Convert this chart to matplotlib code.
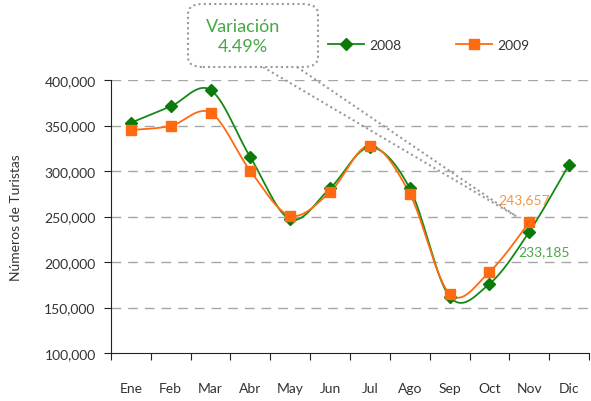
import numpy as np
import matplotlib
matplotlib.use("Agg")
import matplotlib.pyplot as plt
from matplotlib.patches import FancyBboxPatch
from matplotlib.lines import Line2D
from matplotlib.ticker import FuncFormatter, FixedLocator

plt.rcParams['font.family'] = ['Lato', 'DejaVu Sans']

months = ["Ene", "Feb", "Mar", "Abr", "May", "Jun", "Jul", "Ago", "Sep", "Oct", "Nov", "Dic"]
v2008 = [353000, 371000, 389000, 315000, 247000, 281000, 326000, 281000, 162000, 176000, 233185, 307000]
v2009 = [345000, 349500, 364000, 300000, 251000, 277000, 328000, 275000, 165000, 189000, 243657]
label_2008 = "233,185"
label_2009 = "243,657"
callout_text = "Variación\n4.49%"

W, H = 591, 402
fig = plt.figure(figsize=(W / 100, H / 100), dpi=100)
ax = fig.add_axes([111 / W, 1 - 354 / H, 478 / W, 273 / H])

ax.set_xlim(-0.5, 11.5)
ax.set_ylim(100000, 400000)

sx = 478 / 12.0
sy = 273 / 300000.0


def smooth(xs, ys, n=30):
    px = np.asarray(xs, float) * sx
    py = np.asarray(ys, float) * sy
    P = np.column_stack([px, py])
    out = []
    m = len(P)
    for i in range(m - 1):
        p0 = P[i - 1] if i > 0 else P[i]
        p1 = P[i]
        p2 = P[i + 1]
        p3 = P[i + 2] if i + 2 < m else P[i + 1]
        c1 = p1 + (p2 - p0) / 6.0
        c2 = p2 - (p3 - p1) / 6.0
        t = np.linspace(0, 1, n)[:, None]
        seg = ((1 - t) ** 3) * p1 + 3 * ((1 - t) ** 2) * t * c1 + 3 * (1 - t) * t ** 2 * c2 + t ** 3 * p2
        out.append(seg if i == 0 else seg[1:])
    S = np.vstack(out)
    return S[:, 0] / sx, S[:, 1] / sy


green = "#138a13"
orange = "#ff6a10"

x08 = np.arange(len(v2008))
x09 = np.arange(len(v2009))

gx, gy = smooth(x08, v2008)
ox, oy = smooth(x09, v2009)

ax.plot(gx, gy, color=green, lw=1.3, zorder=3, solid_capstyle='round')
ax.plot(ox, oy, color=orange, lw=1.3, zorder=4, solid_capstyle='round')
ax.plot(x08, v2008, linestyle='none', marker='D', ms=6, color='#0b7a0b', zorder=5)
ax.plot(x09, v2009, linestyle='none', marker='s', ms=7, color=orange, zorder=6)

for yv in range(150000, 400001, 50000):
    ax.axhline(yv, color='#a6a6a6', lw=1.0, ls=(0, (7, 5)), zorder=1)

ax.yaxis.set_major_locator(FixedLocator(list(range(100000, 400001, 50000))))
ax.yaxis.set_major_formatter(FuncFormatter(lambda v, p: f"{int(v):,}"))
ax.set_xticks(np.arange(-0.5, 11.6, 1.0))
ax.set_xticklabels([])
ax.set_xticks(np.arange(12), minor=True)
ax.set_xticklabels(months, minor=True)
ax.tick_params(axis='x', which='minor', length=0, pad=21, labelsize=10, labelcolor='#333333')
ax.tick_params(axis='x', which='major', length=5, direction='out', color='#222222')
ax.tick_params(axis='y', length=5, direction='out', labelsize=10, labelcolor='#333333', color='#222222', pad=6)

for s in ['top', 'right']:
    ax.spines[s].set_visible(False)
ax.spines['left'].set_color('#222222')
ax.spines['bottom'].set_color('#222222')

ax.set_ylabel("Números de Turistas", fontsize=10, color='#333333', labelpad=16)

ax.annotate(label_2009, xy=(10, v2009[10]), xytext=(-22, 17), textcoords='offset points',
            color='#f79646', fontsize=10, ha='left', va='center', zorder=8)
ax.annotate(label_2008, xy=(10, v2008[10]), xytext=(-8, -14), textcoords='offset points',
            color='#4aa84a', fontsize=10, ha='left', va='center')

handles = [Line2D([], [], color=green, marker='D', ms=6, mfc='#0b7a0b', mec='#0b7a0b', lw=1.3),
           Line2D([], [], color=orange, marker='s', ms=7, mfc=orange, mec=orange, lw=1.3)]
leg = fig.legend(handles, ["2008", "2009"], loc='center left', bbox_to_anchor=(328 / W, 1 - 46 / H),
                 ncol=2, frameon=False, fontsize=10, handlelength=2.6, columnspacing=3.9,
                 handletextpad=0.4, borderaxespad=0, borderpad=0)
for t in leg.get_texts():
    t.set_color('#333333')

box = FancyBboxPatch((188 / W, 1 - 68 / H), 130 / W, 63 / H,
                     boxstyle="round,pad=0,rounding_size=0.025",
                     transform=fig.transFigure, fill=True, facecolor='white',
                     edgecolor='#9a9a9a', lw=1.5, ls=(0, (1, 1.5)), zorder=10)
fig.patches.append(box)
fig.text(243 / W, 1 - 37 / H, callout_text, color='#45a845', fontsize=13, ha='center', va='center',
         linespacing=1.25, zorder=11)

tip_disp = ax.transData.transform((10, v2009[10]))
tip = fig.transFigure.inverted().transform(tip_disp + np.array([-13, 6]))
for sx0, sy0 in [(263 / W, 1 - 68 / H), (297 / W, 1 - 68 / H)]:
    fig.add_artist(Line2D([sx0, tip[0]], [sy0, tip[1]], transform=fig.transFigure,
                          color='#9a9a9a', lw=1.5, ls=(0, (1, 1.5)), zorder=2))

fig.savefig("out.png", dpi=100, facecolor='white')
